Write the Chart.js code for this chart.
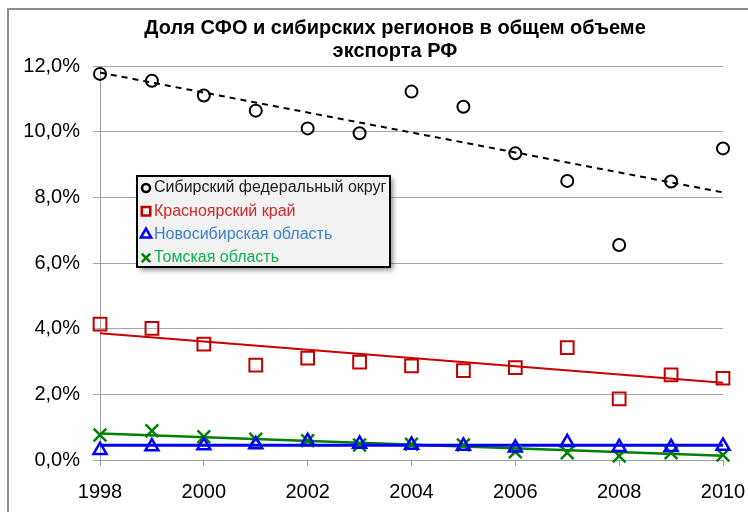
<!DOCTYPE html>
<html>
<head>
<meta charset="utf-8">
<script src="https://cdn.jsdelivr.net/npm/chart.js@4.4.0/dist/chart.umd.min.js"></script>
<style>
  html, body { margin: 0; padding: 0; background: #fff; }
</style>
</head>
<body>
<canvas id="chart" width="748" height="512"></canvas>
<script>
// data (percent of RF export)
const years = [1998, 1999, 2000, 2001, 2002, 2003, 2004, 2005, 2006, 2007, 2008, 2009, 2010];
const sfo = [11.76, 11.55, 11.1, 10.64, 10.1, 9.95, 11.22, 10.76, 9.34, 8.5, 6.55, 8.48, 9.49];
const krasnoyarsk = [4.14, 4.01, 3.53, 2.89, 3.1, 2.98, 2.87, 2.72, 2.81, 3.42, 1.86, 2.59, 2.49];
const novosibirsk = [0.3, 0.41, 0.44, 0.47, 0.57, 0.49, 0.46, 0.43, 0.37, 0.54, 0.39, 0.39, 0.43];
const tomsk = [0.76, 0.89, 0.71, 0.63, 0.59, 0.46, 0.48, 0.46, 0.25, 0.22, 0.12, 0.22, 0.15];

// trend lines (end points)
const trendYears = [1998, 2010];
const sfoTrend = [11.8, 8.15];
const krasnoyarskTrend = [3.86, 2.35];
const novosibirskTrend = [0.45, 0.45];
const tomskTrend = [0.81, 0.13];

const seriesNames = ["Сибирский федеральный округ", "Красноярский край", "Новосибирская область", "Томская область"];
const titleLines = ["Доля СФО и сибирских регионов в общем объеме", "экспорта РФ"];

const FONT = "'Liberation Sans', Arial, sans-serif";

const toPoints = (xs, ys) => xs.map((x, i) => ({ x: x, y: ys[i] }));

const styles = [
  { marker: "circle", radius: 6, color: "#000000", text: "#222222", line: "#000000", width: 2, dash: [6, 5], mw: 2 },
  { marker: "rect", radius: 9, color: "#c00000", text: "#d02828", line: "#cc0000", width: 2, dash: [], mw: 2 },
  { marker: "triangle", radius: 7.5, color: "#0000ff", text: "#3a7fd0", line: "#0000ff", width: 3, dash: [], mw: 2.5 },
  { marker: "crossRot", radius: 9, color: "#008000", text: "#10b050", line: "#008000", width: 2.5, dash: [], mw: 2.5 }
];
const values = [sfo, krasnoyarsk, novosibirsk, tomsk];
const trends = [sfoTrend, krasnoyarskTrend, novosibirskTrend, tomskTrend];

const datasets = [];
values.forEach((vals, i) => {
  const s = styles[i];
  datasets.push({
    label: seriesNames[i],
    data: toPoints(years, vals),
    showLine: false,
    clip: false,
    pointStyle: s.marker,
    pointRadius: s.radius,
    pointBorderWidth: s.mw,
    pointBorderColor: s.color,
    pointBackgroundColor: "rgba(0,0,0,0)",
    order: 1
  });
  datasets.push({
    label: seriesNames[i] + " trend",
    data: toPoints(trendYears, trends[i]),
    showLine: true,
    clip: false,
    borderColor: s.line,
    borderWidth: s.width,
    borderDash: s.dash,
    pointRadius: 0,
    fill: false,
    order: 2
  });
});

// white background + gray frame of the original sheet
const framePlugin = {
  id: "frame",
  beforeDraw(chart) {
    const c = chart.ctx;
    c.save();
    c.fillStyle = "#fff";
    c.fillRect(0, 0, chart.width, chart.height);
    c.strokeStyle = "#8c8c8c";
    c.lineWidth = 2;
    c.beginPath();
    c.moveTo(8, chart.height);
    c.lineTo(8, 9);
    c.lineTo(chart.width, 9);
    c.stroke();
    c.restore();
  }
};

const titlePlugin = {
  id: "titleLines",
  afterDraw(chart) {
    const c = chart.ctx;
    c.save();
    c.fillStyle = "#000";
    c.font = "bold 20px " + FONT;
    c.textAlign = "center";
    c.textBaseline = "middle";
    c.fillText(titleLines[0], 395, 28);
    c.fillText(titleLines[1], 395, 51);
    c.restore();
  }
};

// legend box placed inside the plot like in the original
const legendPlugin = {
  id: "boxLegend",
  afterDraw(chart) {
    const c = chart.ctx;
    const x = 137, y = 176, w = 253, h = 91;
    c.save();
    c.shadowColor = "rgba(0,0,0,0.45)";
    c.shadowBlur = 5;
    c.shadowOffsetX = 3;
    c.shadowOffsetY = 3;
    c.fillStyle = "#f2f2f2";
    c.fillRect(x, y, w, h);
    c.shadowColor = "transparent";
    c.strokeStyle = "#000";
    c.lineWidth = 2;
    c.strokeRect(x, y, w, h);
    c.font = "16px " + FONT;
    c.textBaseline = "middle";
    c.textAlign = "left";
    seriesNames.forEach((name, i) => {
      const s = styles[i];
      const ry = 188 + i * 23.3;
      c.strokeStyle = s.color;
      c.fillStyle = "rgba(0,0,0,0)";
      c.lineWidth = 2.5;
      Chart.helpers.drawPoint(c, { pointStyle: s.marker, rotation: 0, radius: s.marker === "circle" ? 4 : 6, borderWidth: 2.5 }, 146, ry);
      c.fillStyle = s.text;
      c.fillText(name, 154, ry);
    });
    c.restore();
  }
};

new Chart(document.getElementById("chart"), {
  type: "scatter",
  data: { datasets: datasets },
  options: {
    responsive: false,
    animation: false,
    layout: { padding: { left: 0, right: 25, top: 66, bottom: 0 } },
    plugins: {
      legend: { display: false },
      title: { display: false },
      tooltip: { enabled: false }
    },
    scales: {
      x: {
        type: "linear",
        min: 1998,
        max: 2010,
        afterFit: s => { s.height = 52; s.paddingLeft = 0; s.paddingRight = 0; },
        ticks: {
          stepSize: 2,
          callback: v => String(v),
          color: "#000",
          font: { family: FONT, size: 20 },
          padding: 14,
          maxRotation: 0
        },
        grid: { drawOnChartArea: false, drawTicks: true, tickLength: 6, color: "#a0a0a0" },
        border: { color: "#a0a0a0" }
      },
      y: {
        min: 0,
        max: 12,
        afterFit: s => { s.width = 100; },
        ticks: {
          stepSize: 2,
          callback: v => v.toFixed(1).replace(".", ",") + "%",
          color: "#000",
          font: { family: FONT, size: 20 },
          padding: 13
        },
        grid: { color: "#a6a6a6", tickLength: 7 },
        border: { color: "#a0a0a0" }
      }
    }
  },
  plugins: [framePlugin, titlePlugin, legendPlugin]
});
</script>
</body>
</html>
